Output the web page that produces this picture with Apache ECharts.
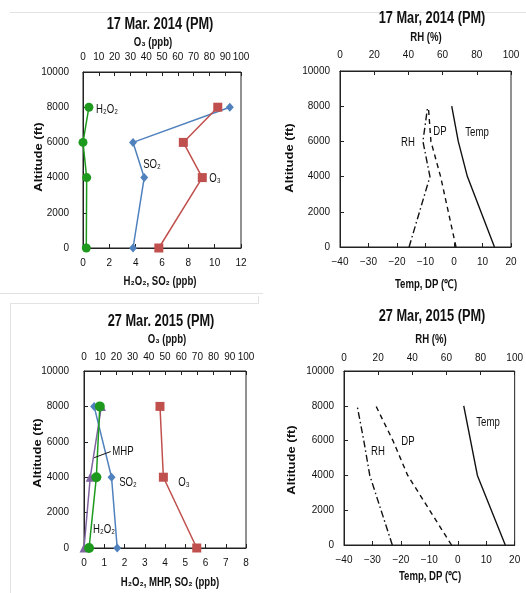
<!DOCTYPE html>
<html>
<head>
<meta charset="utf-8">
<script src="https://cdn.jsdelivr.net/npm/echarts@6/dist/echarts.min.js"></script>
<style>
  html, body { margin: 0; padding: 0; background: #fff; }
  #chart { width: 526px; height: 593px; }
</style>
</head>
<body>
<div id="chart"></div>
<script>
// altitude levels (ft)
const alt14 = [0, 4000, 6000, 8000];
const alt15 = [0, 4000, 8000];
const alt15met = [0, 4000, 6000, 8000];

// 17 Mar 2014 - chemistry (ppb)
const h2o2_14 = [0.25, 0.28, 0, 0.45];
const so2_14 = [3.8, 4.65, 3.8, 11.15];
const o3_14 = [48, 75.5, 63.5, 85.3];
// 17 Mar 2014 - met
const temp_14 = [14.2, 4.7, 1.5, -0.8];
const dp_14 = [0.7, -4.7, -8.1, -9];
const rh_14 = [40.4, 52.6, 48.5, 51.3];

// 27 Mar 2015 - chemistry (ppb)
const h2o2_15 = [0.25, 0.61, 0.78];
const mhp_15 = [0, 0.31, 0.86];
const so2_15 = [1.64, 1.36, 0.5];
const o3_15 = [69.6, 49, 46.9];
// 27 Mar 2015 - met
const temp_15 = [16.7, 6.9, 4.5, 2.1];
const dp_15 = [-2.2, -17.6, -22.8, -28.8];
const rh_15 = [28.3, 15.1, 11.6, 7.7];

const altTicks = [0, 10000, 2000];

const FONT = "'Liberation Sans', Arial, sans-serif";
const GREEN = '#1d9a1d', BLUE = '#4f81bd', RED = '#c0504d', PURPLE = '#8064a2';
// the original uses a narrow font, so texts are squeezed a bit
const SQUEEZE = 0.8;

const pairs = (xs, ys) => xs.map((v, i) => [v, ys[i]]);

const chart = echarts.init(document.getElementById('chart'));

const grids = [
  { left: 83, top: 72, width: 158, height: 176 },
  { left: 340, top: 71, width: 171, height: 176 },
  { left: 84, top: 371, width: 162, height: 177 },
  { left: 344, top: 371, width: 172, height: 174 }
].map(g => Object.assign(g, { show: true, borderColor: '#222', borderWidth: 1, backgroundColor: 'transparent' }));

function xAxis(gridIndex, pos, min, max, interval, margin) {
  return {
    type: 'value', gridIndex, position: pos, min, max, interval,
    axisLine: { show: true, onZero: false, lineStyle: { color: '#222', width: 1 } },
    axisTick: { show: true, inside: true, length: 4, lineStyle: { color: '#222' } },
    splitLine: { show: false },
    axisLabel: {
      margin, fontFamily: FONT, fontSize: 10, color: '#111',
      formatter: v => (v < 0 ? '\u2212' + Math.abs(v) : String(v))
    }
  };
}
function yAxis(gridIndex, margin) {
  return {
    type: 'value', gridIndex, min: altTicks[0], max: altTicks[1], interval: altTicks[2],
    axisLine: { show: true, onZero: false, lineStyle: { color: '#222', width: 1 } },
    axisTick: { show: true, inside: true, length: 4, lineStyle: { color: '#222' } },
    splitLine: { show: false },
    axisLabel: { margin, fontFamily: FONT, fontSize: 10, color: '#111', formatter: v => String(v) }
  };
}

const xAxes = [
  xAxis(0, 'bottom', 0, 12, 2, 10),
  xAxis(0, 'top', 0, 100, 10, 10),
  xAxis(1, 'bottom', -40, 20, 10, 10),
  xAxis(1, 'top', 0, 100, 20, 11),
  xAxis(2, 'bottom', 0, 8, 1, 10),
  xAxis(2, 'top', 0, 100, 10, 9),
  xAxis(3, 'bottom', -40, 20, 10, 10),
  xAxis(3, 'top', 0, 100, 20, 8)
];
const yAxes = [yAxis(0, 14), yAxis(1, 10), yAxis(2, 15), yAxis(3, 10)];

function chem(name, xi, yi, data, color, symbol, size) {
  return {
    name, type: 'line', xAxisIndex: xi, yAxisIndex: yi, data,
    symbol, symbolSize: size, showSymbol: true,
    lineStyle: { color, width: 1.5 }, itemStyle: { color },
    animation: false
  };
}
function met(name, xi, yi, data, dash) {
  return {
    name, type: 'line', xAxisIndex: xi, yAxisIndex: yi, data,
    symbol: 'none', lineStyle: { color: '#111', width: 1.4, type: dash },
    animation: false
  };
}

const series = [
  // 2014 chemistry
  chem('SO2', 0, 0, pairs(so2_14, alt14), BLUE, 'diamond', [8, 9]),
  chem('O3', 1, 0, pairs(o3_14, alt14), RED, 'rect', 9),
  chem('H2O2', 0, 0, pairs(h2o2_14, alt14), GREEN, 'circle', 9),
  // 2014 met
  met('Temp', 2, 1, pairs(temp_14, alt14), 'solid'),
  met('DP', 2, 1, pairs(dp_14, alt14), [5, 4]),
  met('RH', 3, 1, pairs(rh_14, alt14), [7, 3, 1.5, 3]),
  // 2015 chemistry
  Object.assign(chem('MHP', 4, 2, pairs(mhp_15, alt15), PURPLE, 'triangle', 9), {
    markLine: {
      silent: true, symbol: 'none', label: { show: false },
      lineStyle: { color: '#111', width: 1, type: 'solid' },
      data: [[{ coord: [0.5, 5100] }, { coord: [1.32, 5450] }]]
    }
  }),
  chem('SO2', 4, 2, pairs(so2_15, alt15), BLUE, 'diamond', [8, 9]),
  chem('H2O2', 4, 2, pairs(h2o2_15, alt15), GREEN, 'circle', 10),
  chem('O3', 5, 2, pairs(o3_15, alt15), RED, 'rect', 9),
  // 2015 met
  met('Temp', 6, 3, pairs(temp_15, alt15met), 'solid'),
  met('DP', 6, 3, pairs(dp_15, alt15met), [5, 4]),
  met('RH', 7, 3, pairs(rh_15, alt15met), [7, 3, 1.5, 3])
];

function txt(text, x, y, size, weight, rot) {
  const vertical = !!rot;
  return {
    type: 'text', x, y, rotation: rot || 0, silent: true,
    scaleX: vertical ? 1 : SQUEEZE, scaleY: vertical ? SQUEEZE : 1,
    style: {
      text, fontFamily: FONT, fontSize: size, fontWeight: weight || 'normal',
      fill: '#111', textAlign: 'center', textVerticalAlign: 'middle'
    }
  };
}
function hline(x1, x2, y) {
  return { type: 'line', silent: true, shape: { x1, y1: y, x2, y2: y }, style: { stroke: '#e2e2e2', lineWidth: 1 } };
}
function vline(x, y1, y2) {
  return { type: 'line', silent: true, shape: { x1: x, y1, x2: x, y2 }, style: { stroke: '#e2e2e2', lineWidth: 1 } };
}

const graphic = [
  // leftover frame lines from the original screenshot
  hline(10, 526, 12.5),
  hline(0, 263, 293.5),
  hline(10, 259, 303.5),
  vline(10.5, 303, 593),
  vline(258.5, 296, 303),
  // titles
  txt('17 Mar. 2014 (PM)', 160, 25, 16, 'bold'),
  txt('17 Mar, 2014 (PM)', 432, 19, 16, 'bold'),
  txt('27 Mar. 2015 (PM)', 161, 322, 16, 'bold'),
  txt('27 Mar, 2015 (PM)', 432, 317, 16, 'bold'),
  // axis names
  txt('O\u2083 (ppb)', 153, 43, 12, 'bold'),
  txt('H\u2082O\u2082, SO\u2082 (ppb)', 160, 282, 12, 'bold'),
  txt('RH (%)', 426, 38, 12, 'bold'),
  txt('Temp, DP (\u2103)', 426, 285, 12, 'bold'),
  txt('O\u2083 (ppb)', 167, 340, 12, 'bold'),
  txt('H\u2082O\u2082, MHP, SO\u2082 (ppb)', 170, 583, 12, 'bold'),
  txt('RH (%)', 431, 340, 12, 'bold'),
  txt('Temp, DP (\u2103)', 430, 577, 12, 'bold'),
  txt('Altitude (ft)', 39, 157, 13, 'bold', Math.PI / 2),
  txt('Altitude (ft)', 290, 158, 13, 'bold', Math.PI / 2),
  txt('Altitude (ft)', 38, 453, 13, 'bold', Math.PI / 2),
  txt('Altitude (ft)', 292, 460, 13, 'bold', Math.PI / 2),
  // series labels
  txt('H\u2082O\u2082', 107, 110, 12),
  txt('SO\u2082', 152, 165, 12),
  txt('O\u2083', 215, 179, 12),
  txt('DP', 440, 132, 12),
  txt('Temp', 477, 133, 12),
  txt('RH', 408, 143, 12),
  txt('MHP', 123, 452, 12),
  txt('SO\u2082', 128, 483, 12),
  txt('O\u2083', 184, 483, 12),
  txt('H\u2082O\u2082', 104, 530, 12),
  txt('Temp', 488, 423, 12),
  txt('DP', 408, 442, 12),
  txt('RH', 378, 452, 12)
];

chart.setOption({
  animation: false,
  backgroundColor: '#fff',
  grid: grids,
  xAxis: xAxes,
  yAxis: yAxes,
  series,
  graphic
});
</script>
</body>
</html>
